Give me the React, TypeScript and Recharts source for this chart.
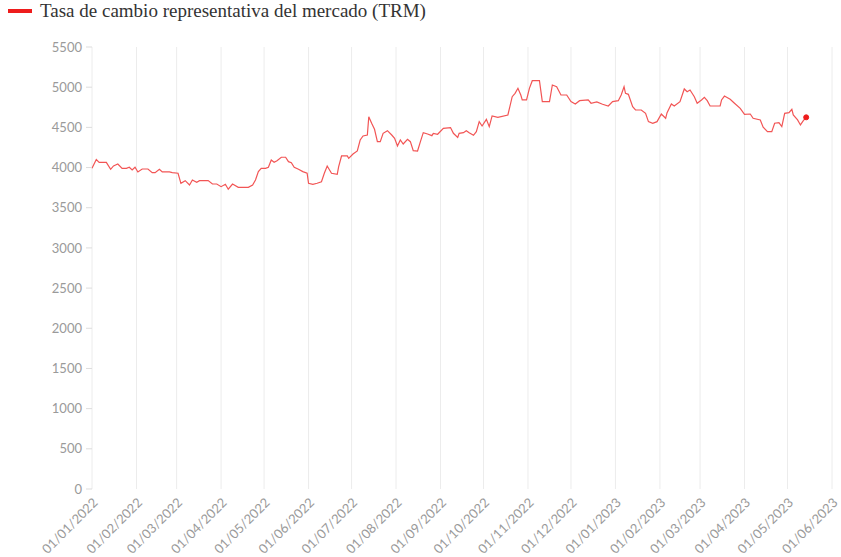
import React from 'react';
import { LineChart, Line, XAxis, YAxis, CartesianGrid } from 'recharts';

// Fechas de cada observación (dd/mm/yyyy en el eje)
const dates = [
  '2022-01-01', '2022-01-04', '2022-01-06', '2022-01-11', '2022-01-14', '2022-01-16', '2022-01-19', '2022-01-22',
  '2022-01-25', '2022-01-27', '2022-01-29', '2022-01-31', '2022-02-02', '2022-02-05', '2022-02-09', '2022-02-12',
  '2022-02-14', '2022-02-17', '2022-02-19', '2022-02-24', '2022-02-26', '2022-03-02', '2022-03-04', '2022-03-07',
  '2022-03-10', '2022-03-12', '2022-03-15', '2022-03-17', '2022-03-23', '2022-03-26', '2022-03-29', '2022-04-01',
  '2022-04-04', '2022-04-06', '2022-04-09', '2022-04-13', '2022-04-20', '2022-04-23', '2022-04-25', '2022-04-27',
  '2022-04-29', '2022-05-02', '2022-05-04', '2022-05-06', '2022-05-08', '2022-05-10', '2022-05-13', '2022-05-16',
  '2022-05-18', '2022-05-20', '2022-05-22', '2022-05-25', '2022-05-28', '2022-05-31', '2022-06-01', '2022-06-04',
  '2022-06-07', '2022-06-10', '2022-06-12', '2022-06-14', '2022-06-17', '2022-06-21', '2022-06-22', '2022-06-24',
  '2022-06-28', '2022-06-29', '2022-07-02', '2022-07-05', '2022-07-07', '2022-07-09', '2022-07-12', '2022-07-13',
  '2022-07-15', '2022-07-17', '2022-07-19', '2022-07-21', '2022-07-23', '2022-07-26', '2022-07-29', '2022-07-31',
  '2022-08-02', '2022-08-04', '2022-08-06', '2022-08-09', '2022-08-11', '2022-08-13', '2022-08-16', '2022-08-18',
  '2022-08-20', '2022-08-23', '2022-08-26', '2022-08-27', '2022-08-30', '2022-09-03', '2022-09-08', '2022-09-10',
  '2022-09-13', '2022-09-14', '2022-09-17', '2022-09-19', '2022-09-21', '2022-09-24', '2022-09-26', '2022-09-28',
  '2022-09-30', '2022-10-03', '2022-10-05', '2022-10-07', '2022-10-11', '2022-10-18', '2022-10-21', '2022-10-23',
  '2022-10-25', '2022-10-27', '2022-10-28', '2022-10-31', '2022-11-02', '2022-11-04', '2022-11-09', '2022-11-11',
  '2022-11-16', '2022-11-18', '2022-11-21', '2022-11-24', '2022-11-28', '2022-12-01', '2022-12-04', '2022-12-07',
  '2022-12-13', '2022-12-15', '2022-12-19', '2022-12-23', '2022-12-27', '2022-12-30', '2023-01-03', '2023-01-05',
  '2023-01-07', '2023-01-08', '2023-01-10', '2023-01-13', '2023-01-15', '2023-01-19', '2023-01-22', '2023-01-24',
  '2023-01-27', '2023-01-30', '2023-02-02', '2023-02-05', '2023-02-06', '2023-02-09', '2023-02-11', '2023-02-15',
  '2023-02-18', '2023-02-20', '2023-02-22', '2023-02-25', '2023-02-27', '2023-03-02', '2023-03-04', '2023-03-06',
  '2023-03-08', '2023-03-15', '2023-03-16', '2023-03-18', '2023-03-22', '2023-03-25', '2023-03-29', '2023-04-01',
  '2023-04-05', '2023-04-07', '2023-04-12', '2023-04-14', '2023-04-17', '2023-04-20', '2023-04-22', '2023-04-25',
  '2023-04-27', '2023-04-29', '2023-05-02', '2023-05-04', '2023-05-05', '2023-05-08', '2023-05-10', '2023-05-12',
  '2023-05-14',
];

// TRM (COP por USD)
const trm = [
  3990, 4100, 4065, 4065, 3978, 4020, 4044, 3990,
  3990, 4003, 3970, 4003, 3945, 3982, 3982, 3937,
  3937, 3978, 3945, 3945, 3937, 3929, 3804, 3837,
  3783, 3845, 3817, 3837, 3837, 3795, 3795, 3762,
  3792, 3730, 3795, 3754, 3754, 3783, 3845, 3949,
  3990, 3990, 4003, 4094, 4065, 4085, 4128, 4128,
  4073, 4061, 4003, 3978, 3949, 3929, 3804, 3792,
  3804, 3824, 3929, 4019, 3929, 3916, 4011, 4144,
  4144, 4115, 4169, 4206, 4343, 4393, 4405, 4633,
  4551, 4476, 4322, 4322, 4426, 4459, 4405, 4364,
  4268, 4343, 4293, 4351, 4322, 4210, 4206, 4322,
  4434, 4418, 4397, 4426, 4414, 4488, 4497, 4426,
  4376, 4426, 4434, 4459, 4434, 4401, 4447, 4571,
  4517, 4600, 4509, 4642, 4625, 4654, 4882, 4924,
  4986, 4903, 4841, 4841, 4986, 5081, 5081, 4820,
  4820, 5027, 5006, 4903, 4903, 4820, 4791, 4832,
  4841, 4800, 4816, 4787, 4766, 4820, 4832, 4903,
  5006, 4924, 4911, 4757, 4716, 4716, 4675, 4571,
  4551, 4571, 4666, 4613, 4683, 4791, 4766, 4820,
  4978, 4944, 4965, 4882, 4800, 4841, 4874, 4832,
  4766, 4766, 4841, 4890, 4849, 4800, 4737, 4662,
  4666, 4613, 4592, 4501, 4447, 4447, 4551, 4559,
  4509, 4675, 4683, 4725, 4654, 4592, 4530, 4584,
  4625,
];

const monthTicks = [
  '2022-01-01', '2022-02-01', '2022-03-01', '2022-04-01', '2022-05-01', '2022-06-01',
  '2022-07-01', '2022-08-01', '2022-09-01', '2022-10-01', '2022-11-01', '2022-12-01',
  '2023-01-01', '2023-02-01', '2023-03-01', '2023-04-01', '2023-05-01', '2023-06-01',
];

const yTicks = [0, 500, 1000, 1500, 2000, 2500, 3000, 3500, 4000, 4500, 5000, 5500];

const toTime = (s: string) => {
  const [y, m, d] = s.split('-').map(Number);
  return Date.UTC(y, m - 1, d);
};

const formatDate = (t: number) => {
  const d = new Date(t);
  const dd = String(d.getUTCDate()).padStart(2, '0');
  const mm = String(d.getUTCMonth() + 1).padStart(2, '0');
  return `${dd}/${mm}/${d.getUTCFullYear()}`;
};

const chartData = dates.map((s, i) => ({ t: toTime(s), trm: trm[i] }));
const xTicks = monthTicks.map(toTime);

const LastDot = (props: any) => {
  const { cx, cy, index } = props;
  if (index !== chartData.length - 1) return null;
  return <circle key="last" cx={cx} cy={cy} r={2.5} fill="#ee1c1c" stroke="#ee1c1c" />;
};

export default function App() {
  const tickStyle = { fill: '#9a9a9a', fontSize: 13, fontFamily: 'Lato' };
  return (
    <div style={{ position: 'absolute', left: 0, top: 0, width: 841, height: 557, background: '#fff' }}>
      {/* legend sits above the plot, outside the chart's own layout */}
      <div
        style={{
          position: 'absolute', left: 8, top: 0, display: 'flex', alignItems: 'center',
          fontFamily: 'serif', fontSize: 19, lineHeight: '22px', color: '#333',
        }}
      >
        <span style={{ display: 'inline-block', width: 24, height: 4, background: '#ee1c1c', marginRight: 8 }} />
        <span>Tasa de cambio representativa del mercado (TRM)</span>
      </div>
      <LineChart width={841} height={557} data={chartData} margin={{ top: 47, right: 9, left: 0, bottom: 0 }}>
        <CartesianGrid horizontal={false} stroke="#ececec" />
        <XAxis
          dataKey="t"
          type="number"
          scale="time"
          domain={[xTicks[0], xTicks[xTicks.length - 1]]}
          ticks={xTicks}
          tickFormatter={formatDate}
          angle={-45}
          textAnchor="end"
          height={68}
          tick={tickStyle}
          axisLine={false}
          tickLine={false}
          interval={0}
        />
        <YAxis
          domain={[0, 5500]}
          ticks={yTicks}
          width={92}
          tick={tickStyle}
          tickLine={{ stroke: '#dddddd' }}
          tickMargin={4}
          axisLine={false}
          interval={0}
        />
        <Line
          type="linear"
          dataKey="trm"
          stroke="#f25555"
          strokeWidth={1.2}
          dot={<LastDot />}
          activeDot={false}
          isAnimationActive={false}
        />
      </LineChart>
    </div>
  );
}
